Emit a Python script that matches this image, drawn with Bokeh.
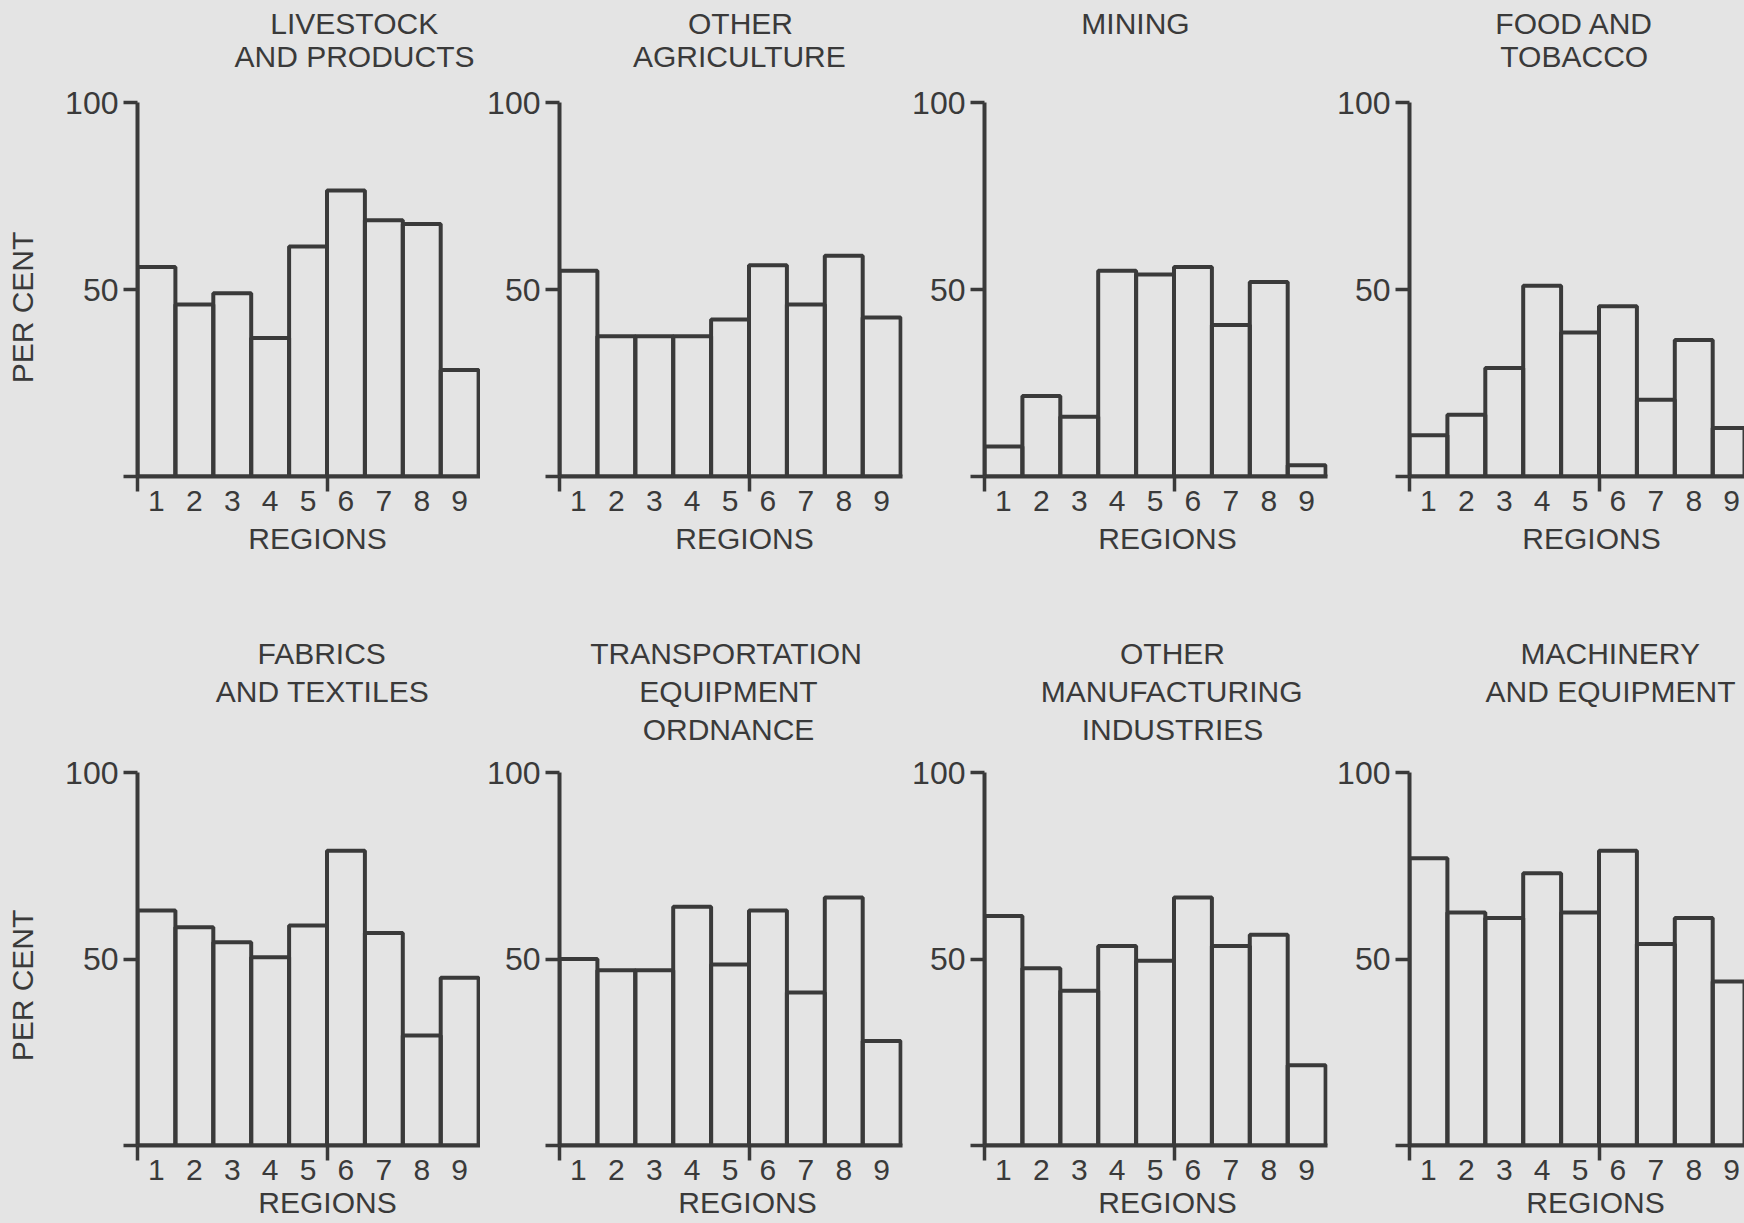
import math
from bokeh.plotting import figure
from bokeh.models import Range1d, LinearAxis, FixedTicker, Title
from bokeh.layouts import row, column
from bokeh.embed import file_html
from bokeh.resources import INLINE

# ---------------- data ----------------
regions = [1, 2, 3, 4, 5, 6, 7, 8, 9]
region_labels = ["1", "2", "3", "4", "5", "6", "7", "8", "9"]
y_ticks = [0, 50, 100]
y_tick_labels = ["", "50", "100"]

livestock_and_products = [56, 46, 49, 37, 61.5, 76.5, 68.5, 67.5, 28.5]
other_agriculture = [55, 37.5, 37.5, 37.5, 42, 56.5, 46, 59, 42.5]
mining = [8, 21.5, 16, 55, 54, 56, 40.5, 52, 3]
food_and_tobacco = [11, 16.5, 29, 51, 38.5, 45.5, 20.5, 36.5, 13]
fabrics_and_textiles = [63, 58.5, 54.5, 50.5, 59, 79, 57, 29.5, 45]
transportation_equipment_ordnance = [50, 47, 47, 64, 48.5, 63, 41, 66.5, 28]
other_manufacturing_industries = [61.5, 47.5, 41.5, 53.5, 49.5, 66.5, 53.5, 56.5, 21.5]
machinery_and_equipment = [77, 62.5, 61, 73, 62.5, 79, 54, 61, 44]

titles = [
    ["LIVESTOCK", "AND PRODUCTS"],
    ["OTHER", "AGRICULTURE"],
    ["MINING"],
    ["FOOD AND", "TOBACCO"],
    ["FABRICS", "AND TEXTILES"],
    ["TRANSPORTATION", "EQUIPMENT", "ORDNANCE"],
    ["OTHER", "MANUFACTURING", "INDUSTRIES"],
    ["MACHINERY", "AND EQUIPMENT"],
]
series = [
    livestock_and_products, other_agriculture, mining, food_and_tobacco,
    fabrics_and_textiles, transportation_equipment_ordnance,
    other_manufacturing_industries, machinery_and_equipment,
]
y_axis_title = "PER CENT"
x_axis_title = "REGIONS"

# ---------------- style / layout ----------------
BG = "#e4e4e4"
INK = "#3a3a3a"
FONT = "Liberation Sans"
FSN = 30
FS = "%dpx" % FSN
FS_Y = "32px"
XPU = 37.9  # pixels per region

# approximate advance widths (1/1000 em) used to centre left-aligned titles
ADV = dict(A=667, B=667, C=722, D=722, E=667, F=611, G=778, H=722, I=278, J=500,
           K=667, L=556, M=833, N=722, O=778, P=667, Q=778, R=722, S=667, T=611,
           U=722, V=667, W=944, X=667, Y=667, Z=611)
ADV[" "] = 278


def text_w(s):
    return sum(ADV.get(c, 600) for c in s) * FSN / 1000.0


COLS = [
    dict(w=480, l=137, r=0),
    dict(w=425, l=79, r=3),
    dict(w=425, l=79, r=3),
    dict(w=414, l=79, r=0),
]
ROWS = [
    dict(h=620, t=102, b=144, nlines=2, line_standoff=-2, spacer=28,
         percent_mid=169, regions_standoff=17),
    dict(h=603, t=152, b=76, nlines=3, line_standoff=3, spacer=22,
         percent_mid=160, regions_standoff=6),
]
TITLE_CX = [217, 181, 151, 165, 185, 169, 188, 201]
REGIONS_CX = [180, 185, 183, 182, 190, 188, 183, 186]
PERCENT_GAP = 21


def make_panel(i):
    ri, ci = divmod(i, 4)
    rs, cs = ROWS[ri], COLS[ci]
    fw = cs["w"] - cs["l"] - cs["r"]
    x_end = 0.5 + fw / XPU

    p = figure(width=cs["w"], height=rs["h"],
               x_range=Range1d(0.5, x_end), y_range=Range1d(0, 100),
               min_border_left=cs["l"], min_border_right=cs["r"],
               min_border_top=rs["t"], min_border_bottom=rs["b"],
               x_axis_type=None, y_axis_type=None,
               toolbar_location=None, output_backend="svg",
               background_fill_color=BG, border_fill_color=BG,
               outline_line_color=None)

    p.vbar(x=regions, top=series[i], bottom=0, width=1,
           fill_color=None, line_color=INK, line_width=4)

    # ---- x axis: region numbers, end tick and middle tick ----
    xa = LinearAxis(ticker=FixedTicker(ticks=regions, minor_ticks=[0.5, 5.5]),
                    major_label_overrides={r: s for r, s in zip(regions, region_labels)})
    xa.axis_line_color = INK
    xa.axis_line_width = 4
    xa.major_tick_out = 0
    xa.major_tick_in = 0
    xa.minor_tick_out = 15
    xa.minor_tick_in = 0
    xa.minor_tick_line_color = INK
    xa.minor_tick_line_width = 3.5
    xa.major_label_standoff = -1
    xa.major_label_text_font = FONT
    xa.major_label_text_font_size = FS
    xa.major_label_text_color = INK
    p.add_layout(xa, "below")
    p.add_layout(Title(text=x_axis_title, align="left",
                       offset=REGIONS_CX[i] - text_w(x_axis_title) / 2,
                       vertical_align="top", standoff=rs["regions_standoff"],
                       text_font=FONT, text_font_size=FS, text_font_style="normal",
                       text_color=INK), "below")

    # ---- y axis ----
    ya = LinearAxis(ticker=FixedTicker(ticks=y_ticks, minor_ticks=[]),
                    major_label_overrides={t: s for t, s in zip(y_ticks, y_tick_labels)})
    ya.axis_line_color = INK
    ya.axis_line_width = 4
    ya.major_tick_out = 14
    ya.major_tick_in = 0
    ya.major_tick_line_color = INK
    ya.major_tick_line_width = 3.5
    ya.major_label_standoff = 5
    ya.major_label_text_font = FONT
    ya.major_label_text_font_size = FS_Y
    ya.major_label_text_color = INK
    p.add_layout(ya, "left")

    if ci == 0:
        p.add_layout(Title(text=" ", text_font_size="1px", standoff=PERCENT_GAP), "left")
        p.add_layout(Title(text=y_axis_title, align="left",
                           offset=rs["percent_mid"] - text_w(y_axis_title) / 2,
                           vertical_align="bottom", standoff=0,
                           text_font=FONT, text_font_size=FS, text_font_style="normal",
                           text_color=INK), "left")

    # ---- panel title (stacked lines, outermost added last) ----
    lines = list(titles[i]) + [" "] * (rs["nlines"] - len(titles[i]))
    p.add_layout(Title(text=" ", text_font_size="1px", standoff=rs["spacer"]), "above")
    for line in reversed(lines):
        p.add_layout(Title(text=line, align="left",
                           offset=TITLE_CX[i] - text_w(line) / 2,
                           standoff=rs["line_standoff"],
                           text_font=FONT, text_font_size=FS, text_font_style="normal",
                           text_color=INK), "above")
    return p


panels = [make_panel(i) for i in range(8)]
layout = column(row(*panels[:4]), row(*panels[4:]))

html = file_html(layout, INLINE, title="Per cent by region")
html = html.replace("</head>", "<style>body{background:#e4e4e4;}</style></head>", 1)
open("out.html", "w").write(html)
